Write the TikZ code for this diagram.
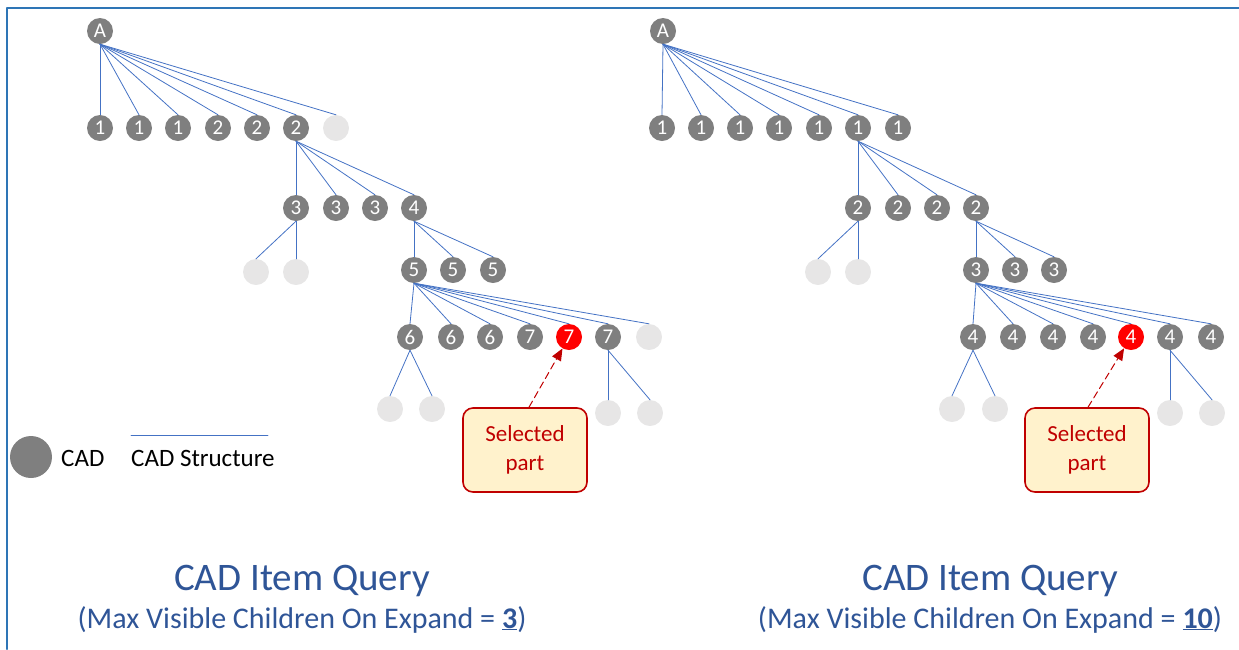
\documentclass[tikz,border=0pt]{standalone}
\usepackage{fontspec}
\setmainfont{Carlito}
\usetikzlibrary{arrows.meta}
\definecolor{CadGray}{HTML}{7F7F7F}
\definecolor{CadLight}{HTML}{E7E6E6}
\definecolor{CadLine}{HTML}{4472C4}
\definecolor{CadFrame}{HTML}{2E75B6}
\definecolor{CadTitle}{HTML}{2F5597}
\definecolor{CadRed}{HTML}{C00000}
\definecolor{CadNote}{HTML}{FFF2CC}
\tikzset{
  cad/.style={circle,fill=CadGray,text=white,minimum size=26pt,inner sep=0pt,font=\fontsize{21}{21}\selectfont},
  hidden/.style={circle,fill=CadLight,minimum size=26pt,inner sep=0pt},
  picked/.style={cad,fill=red},
  link/.style={CadLine,line width=0.8pt},
  note/.style={draw=CadRed,line width=1.6pt,fill=CadNote,rounded corners=10pt,minimum width=124pt,
    minimum height=84pt,text=CadRed,align=center,font=\fontsize{23}{29}\selectfont},
  pointer/.style={CadRed,dash pattern=on 7pt off 4pt,line width=1pt,-{Triangle[length=12pt,width=10pt]}},
  title/.style={text=CadTitle,anchor=base,inner sep=0pt,font=\fontsize{39}{39}\selectfont},
  subtitle/.style={text=CadTitle,anchor=base,inner sep=0pt,font=\fontsize{30}{30}\selectfont},
  legend/.style={anchor=base west,inner sep=0pt,font=\fontsize{25}{25}\selectfont}}
\begin{document}
\begin{tikzpicture}[x=1pt,y=-1pt,line cap=round,line join=round]
  \useasboundingbox (0,0) rectangle (1239,649);
  \draw[CadFrame,line width=2pt] (7,649) -- (7,7.5) -- (1239,7.5);
  % left tree
  \node[cad] (lA) at (100,31) {A};
  \foreach \x/\t [count=\i] in {100/1,139/1,178/1,218/2,257/2,296/2} \node[cad] (l1-\i) at (\x,128) {\t};
  \node[hidden] (l1-7) at (336,128) {};
  \foreach \i in {1,...,7} \draw[link] (lA.south) -- (l1-\i.north);
  \foreach \x/\t [count=\i] in {296/3,336/3,375/3,414/4} \node[cad] (l2-\i) at (\x,208) {\t};
  \foreach \i in {1,...,4} \draw[link] (l1-6.south) -- (l2-\i.north);
  \node[hidden] (l2a) at (256,272) {}; \node[hidden] (l2b) at (296,272) {};
  \draw[link] (l2-1.south) -- (l2a.north); \draw[link] (l2-1.south) -- (l2b.north);
  \foreach \x [count=\i] in {414,453,493} \node[cad] (l3-\i) at (\x,270) {5};
  \foreach \i in {1,...,3} \draw[link] (l2-4.south) -- (l3-\i.north);
  \foreach \x/\t [count=\i] in {410/6,451/6,490/6,530/7} \node[cad] (l4-\i) at (\x,337) {\t};
  \node[picked] (l4-5) at (569,337) {7}; \node[cad] (l4-6) at (608,337) {7};
  \node[hidden] (l4-7) at (649,337) {};
  \foreach \i in {1,...,7} \draw[link] (l3-1.south) -- (l4-\i.north);
  \node[hidden] (l5a) at (390,409) {}; \node[hidden] (l5b) at (432,409) {};
  \node[hidden] (l5c) at (608,413) {}; \node[hidden] (l5d) at (650,413) {};
  \draw[link] (l4-1.south) -- (l5a.north); \draw[link] (l4-1.south) -- (l5b.north);
  \draw[link] (l4-6.south) -- (l5c.north); \draw[link] (l4-6.south) -- (l5d.north);
  \node[note] (lnote) at (525,450) {Selected\\part};
  \draw[pointer] ([xshift=4pt]lnote.north) -- (l4-5);
  % legend
  \node[cad,minimum size=42pt] (key) at (31,457) {};
  \node[legend] (keytext) at (61,466) {CAD};
  \coordinate (keyl) at (131,435); \coordinate (keyr) at (268,435);
  \draw[link] (keyl) -- (keyr);
  \node[legend] (keyline) at (131,466) {CAD Structure};
  \node[title] (ltitle) at (302,590) {CAD Item Query};
  \node[subtitle] (lsub) at (302,628) {(Max Visible Children On Expand = \underline{\textbf{3}})};
  % right tree
  \node[cad] (rA) at (663,31) {A};
  \foreach \x [count=\i] in {662,701,740,779,819,858,898} \node[cad] (r1-\i) at (\x,128) {1};
  \foreach \i in {1,...,7} \draw[link] (rA.south) -- (r1-\i.north);
  \foreach \x [count=\i] in {858,898,937,976} \node[cad] (r2-\i) at (\x,208) {2};
  \foreach \i in {1,...,4} \draw[link] (r1-6.south) -- (r2-\i.north);
  \node[hidden] (r2a) at (818,272) {}; \node[hidden] (r2b) at (858,272) {};
  \draw[link] (r2-1.south) -- (r2a.north); \draw[link] (r2-1.south) -- (r2b.north);
  \foreach \x [count=\i] in {976,1015,1054} \node[cad] (r3-\i) at (\x,270) {3};
  \foreach \i in {1,...,3} \draw[link] (r2-4.south) -- (r3-\i.north);
  \foreach \x [count=\i] in {973,1013,1053,1093} \node[cad] (r4-\i) at (\x,337) {4};
  \node[picked] (r4-5) at (1131,337) {4}; \node[cad] (r4-6) at (1170,337) {4};
  \node[cad] (r4-7) at (1211,337) {4};
  \foreach \i in {1,...,7} \draw[link] (r3-1.south) -- (r4-\i.north);
  \node[hidden] (r5a) at (952,409) {}; \node[hidden] (r5b) at (995,409) {};
  \node[hidden] (r5c) at (1170,413) {}; \node[hidden] (r5d) at (1212,413) {};
  \draw[link] (r4-1.south) -- (r5a.north); \draw[link] (r4-1.south) -- (r5b.north);
  \draw[link] (r4-6.south) -- (r5c.north); \draw[link] (r4-6.south) -- (r5d.north);
  \node[note] (rnote) at (1087,450) {Selected\\part};
  \draw[pointer] ([xshift=1pt]rnote.north) -- (r4-5);
  \node[title] (rtitle) at (990,590) {CAD Item Query};
  \node[subtitle] (rsub) at (990,628) {(Max Visible Children On Expand = \underline{\textbf{10}})};
\end{tikzpicture}
\end{document}
